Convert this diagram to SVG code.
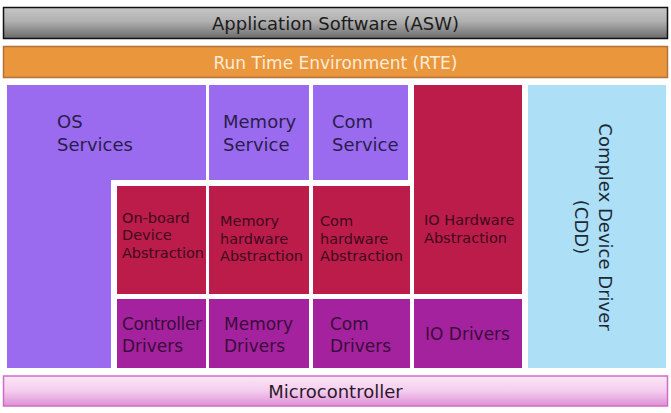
<svg xmlns="http://www.w3.org/2000/svg" width="671" height="413" viewBox="0 0 671 413">
<defs>
<linearGradient id="gAsw" x1="0" y1="0" x2="0" y2="1">
<stop offset="0" stop-color="#c6c6c6"/>
<stop offset="0.45" stop-color="#b0b0b0"/>
<stop offset="1" stop-color="#6a6a6a"/>
</linearGradient>
<linearGradient id="gMc" x1="0" y1="0" x2="0" y2="1">
<stop offset="0" stop-color="#fbe6f6"/>
<stop offset="0.5" stop-color="#f4cdee"/>
<stop offset="1" stop-color="#e08fd6"/>
</linearGradient>
</defs>
<style>
text{font-family:"DejaVu Sans","Liberation Sans",sans-serif;}
.svc{fill:#9a6bef;}
.hw{fill:#bb1c4a;}
.drv{fill:#a5229f;}
.tsvc{font-size:18px;fill:#2a1d4c;}
.thw{font-size:14.5px;fill:#3e0a1c;}
.tdrv{font-size:17px;fill:#3a0c3a;}
</style>
<rect width="671" height="413" fill="#ffffff"/>
<g id="asw">
<rect x="3.5" y="7.5" width="664" height="31" fill="url(#gAsw)" stroke="#111" stroke-width="1.5"/>
<text x="335.5" y="30" font-size="18" text-anchor="middle" fill="#1c1c1c">Application Software (ASW)</text>
</g>
<g id="rte">
<rect x="3.5" y="46.5" width="664" height="31" fill="#ea963d" stroke="#b07238" stroke-width="1.5"/>
<text x="335.5" y="69" font-size="17" text-anchor="middle" fill="#fdebd6">Run Time Environment (RTE)</text>
</g>
<g id="os-services">
<path class="svc" d="M7 85 H206 V180 H111 V368 H7 Z"/>
<text class="tsvc" x="57" y="128">OS</text>
<text class="tsvc" x="57" y="150.5">Services</text>
</g>
<g id="memory-service">
<rect class="svc" x="209" y="85" width="100" height="95"/>
<text class="tsvc" x="223" y="128">Memory</text>
<text class="tsvc" x="223" y="150.5">Service</text>
</g>
<g id="com-service">
<rect class="svc" x="313" y="85" width="95" height="95"/>
<text class="tsvc" x="332" y="128">Com</text>
<text class="tsvc" x="332" y="150.5">Service</text>
</g>
<g id="onboard-device-abstraction">
<rect class="hw" x="117" y="186" width="89" height="108"/>
<text class="thw" x="122" y="222.5">On-board</text>
<text class="thw" x="122" y="240">Device</text>
<text class="thw" x="122" y="258" textLength="82">Abstraction</text>
</g>
<g id="memory-hardware-abstraction">
<rect class="hw" x="209" y="186" width="100" height="108"/>
<text class="thw" x="220" y="226">Memory</text>
<text class="thw" x="220" y="243.5">hardware</text>
<text class="thw" x="220" y="261">Abstraction</text>
</g>
<g id="com-hardware-abstraction">
<rect class="hw" x="313" y="186" width="97" height="108"/>
<text class="thw" x="320" y="226">Com</text>
<text class="thw" x="320" y="243.5">hardware</text>
<text class="thw" x="320" y="261">Abstraction</text>
</g>
<g id="io-hardware-abstraction">
<rect class="hw" x="414" y="85" width="108" height="209"/>
<text class="thw" x="424" y="225">IO Hardware</text>
<text class="thw" x="424" y="242.5">Abstraction</text>
</g>
<g id="controller-drivers">
<rect class="drv" x="117" y="299" width="89" height="69"/>
<text class="tdrv" x="122" y="329.5" textLength="80">Controller</text>
<text class="tdrv" x="122" y="352">Drivers</text>
</g>
<g id="memory-drivers">
<rect class="drv" x="209" y="299" width="100" height="69"/>
<text class="tdrv" x="224" y="329.5">Memory</text>
<text class="tdrv" x="224" y="352">Drivers</text>
</g>
<g id="com-drivers">
<rect class="drv" x="313" y="299" width="97" height="69"/>
<text class="tdrv" x="330" y="329.5">Com</text>
<text class="tdrv" x="330" y="352">Drivers</text>
</g>
<g id="io-drivers">
<rect class="drv" x="414" y="299" width="108" height="69"/>
<text class="tdrv" x="425" y="340">IO Drivers</text>
</g>
<g id="cdd">
<rect x="528" y="85" width="138" height="283" fill="#addff6"/>
<g transform="translate(599,227) rotate(90)">
<text x="0" y="0" font-size="18" text-anchor="middle" fill="#1c2a36">Complex Device Driver</text>
<text x="0" y="24" font-size="18" text-anchor="middle" fill="#1c2a36">(CDD)</text>
</g>
</g>
<g id="microcontroller">
<rect x="3.5" y="376" width="664" height="30" fill="url(#gMc)" stroke="#cf6cc6" stroke-width="1.5"/>
<text x="335.5" y="398" font-size="18" text-anchor="middle" fill="#2a1a2a">Microcontroller</text>
</g>
<g id="connectors"/>
</svg>
